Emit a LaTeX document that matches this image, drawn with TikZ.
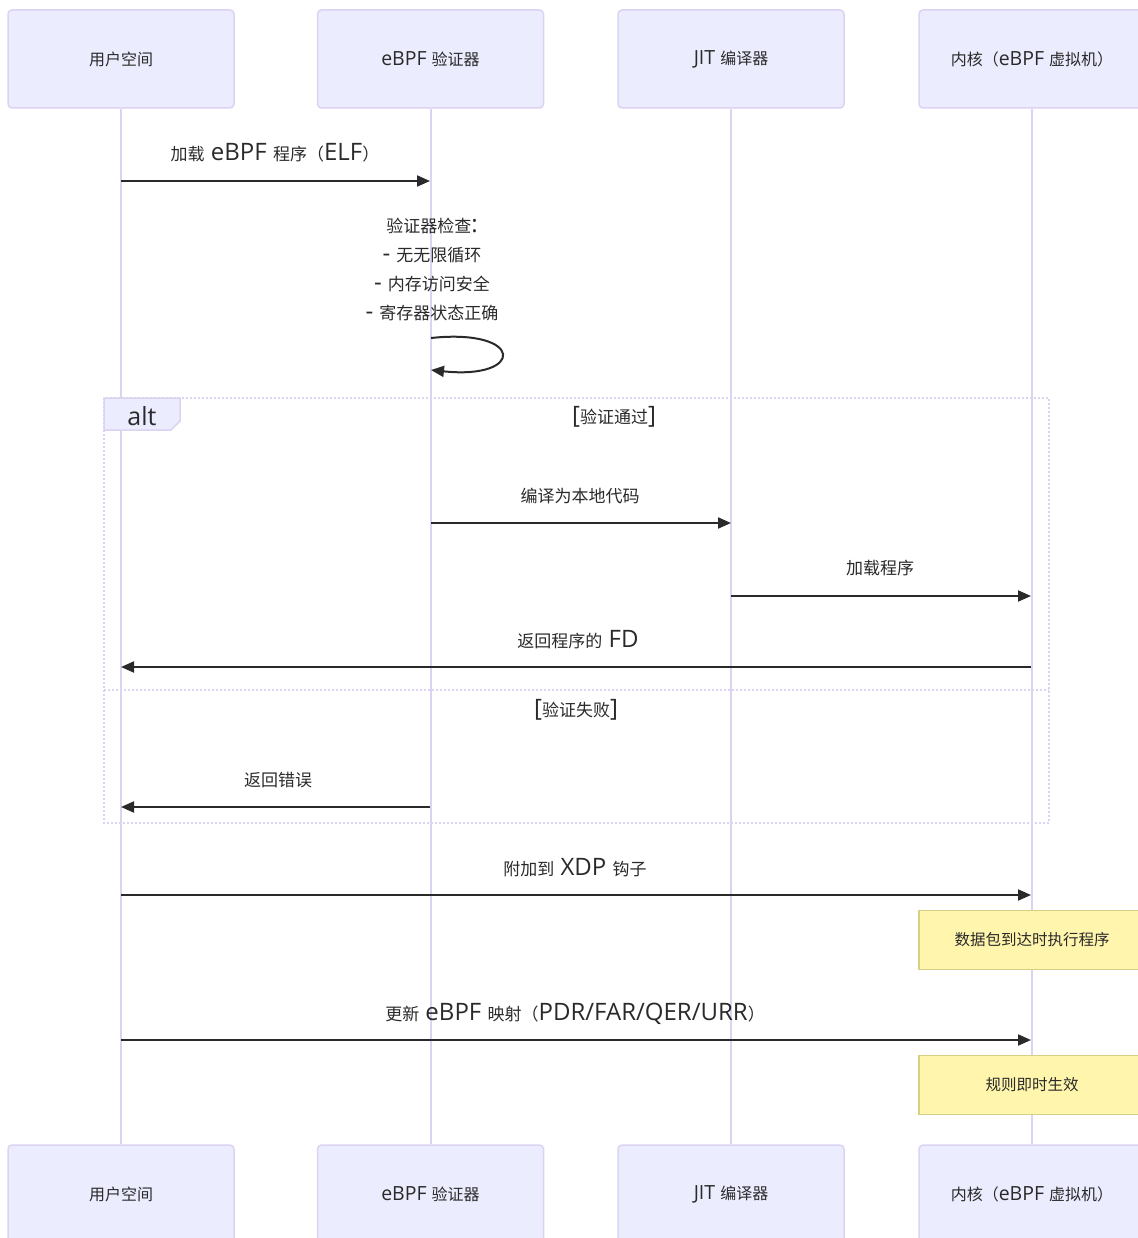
\documentclass[tikz,border=0pt]{standalone}
\usepackage{fontspec}
\setmainfont{Open Sans}
\newfontfamily\cjk{Noto Sans CJK SC}
\def\zhsz{17}
\newcommand\zh[1]{{\cjk\fontsize{\zhsz}{29}\selectfont #1}}
\usetikzlibrary{arrows.meta}
\definecolor{actfill}{HTML}{ECECFF}
\definecolor{actborder}{HTML}{DCD3F3}
\definecolor{txt}{HTML}{2A2A2A}
\definecolor{notefill}{HTML}{FFF5AD}
\definecolor{noteborder}{HTML}{D6CF86}
\tikzset{
  actor/.style={draw=actborder, fill=actfill, line width=1.5pt, rounded corners=4pt,
    minimum width=226pt, minimum height=98pt, inner sep=0pt, text=txt,
    font=\fontsize{19.5}{25}\selectfont\def\zhsz{16}},
  lifeline/.style={draw=actborder, line width=2pt},
  msgarrow/.style={draw=txt, line width=2pt, -{Triangle[length=13pt,width=11pt]}},
  msglabel/.style={text=txt, font=\fontsize{24}{29}\selectfont, inner sep=0pt, align=center},
  loopline/.style={draw=actborder, line width=1.5pt, dash pattern=on 2pt off 2pt},
  note/.style={draw=noteborder, fill=notefill, line width=1.5pt, minimum width=226pt,
    minimum height=59pt, inner sep=0pt, text=txt, font=\fontsize{21}{25}\selectfont\def\zhsz{15.5}},
}
\begin{document}
\begin{tikzpicture}[x=1pt, y=-1pt]
\useasboundingbox (0,0) rectangle (1137,1238);
% actors (top and bottom)
\node[actor] (a1) at (121,59) {\zh{用户空间}};
\node[actor] (a2) at (430.5,59) {eBPF \zh{验证器}};
\node[actor] (a3) at (731,59) {JIT \zh{编译器}};
\node[actor] (a4) at (1032,59) {\zh{内核（}eBPF \zh{虚拟机）}};
\node[actor] (b1) at (121,1194) {\zh{用户空间}};
\node[actor] (b2) at (430.5,1194) {eBPF \zh{验证器}};
\node[actor] (b3) at (731,1194) {JIT \zh{编译器}};
\node[actor] (b4) at (1032,1194) {\zh{内核（}eBPF \zh{虚拟机）}};
% lifelines
\draw[lifeline] (a1.south) -- (b1.north);
\draw[lifeline] (a2.south) -- (b2.north);
\draw[lifeline] (a3.south) -- (b3.north);
\draw[lifeline] (a4.south) -- (b4.north);
% points on lifelines
\coordinate (p1a) at (121,181);  \coordinate (p1b) at (430,181);
\coordinate (s1) at (431,338);   \coordinate (s2) at (431,370);
\coordinate (p4a) at (431,523);  \coordinate (p4b) at (731,523);
\coordinate (p5a) at (731,596);  \coordinate (p5b) at (1031,596);
\coordinate (p6a) at (1031,667); \coordinate (p6b) at (121,667);
\coordinate (p8a) at (430,807);  \coordinate (p8b) at (121,807);
\coordinate (p9a) at (121,895);  \coordinate (p9b) at (1031,895);
\coordinate (p11a) at (121,1040); \coordinate (p11b) at (1031,1040);
% message 1
\draw[msgarrow] (p1a) -- (p1b);
\node[msglabel] (l1) at (275,153) {\zh{加载} eBPF \zh{程序（}ELF\zh{）}};
% self message
\node[msglabel] (l2) at (432,269) {\zh{验证器检查}:\\- \zh{无无限循环}\\- \zh{内存访问安全}\\- \zh{寄存器状态正确}};
\draw[msgarrow] (s1) .. controls (525,328) and (525,380) .. (s2);
% alt frame
\draw[loopline] (104,398) rectangle (1049,823);
\draw[loopline] (104,690) -- (1049,690);
\draw[draw=actborder, fill=actfill, line width=1.5pt] (104,398) -- (180,398) -- (180,421) -- (171,430) -- (104,430) -- cycle;
\node[msglabel, font=\fontsize{25}{29}\selectfont] (alt) at (142,416) {alt};
\node[msglabel] (c1) at (614,417) {[\zh{验证通过}]};
\node[msglabel] (c2) at (576,710) {[\zh{验证失败}]};
% messages in alt
\draw[msgarrow] (p4a) -- (p4b);
\node[msglabel] (l4) at (580,496) {\zh{编译为本地代码}};
\draw[msgarrow] (p5a) -- (p5b);
\node[msglabel] (l5) at (880,568) {\zh{加载程序}};
\draw[msgarrow] (p6a) -- (p6b);
\node[msglabel] (l6) at (578,640) {\zh{返回程序的} FD};
\draw[msgarrow] (p8a) -- (p8b);
\node[msglabel] (l8) at (278,780) {\zh{返回错误}};
% after alt
\draw[msgarrow] (p9a) -- (p9b);
\node[msglabel] (l9) at (575,868) {\zh{附加到} XDP \zh{钩子}};
\node[note] (n1) at (1032,940) {\zh{数据包到达时执行程序}};
\draw[msgarrow] (p11a) -- (p11b);
\node[msglabel] (l11) at (575,1014) {\zh{更新} eBPF \zh{映射（}PDR/FAR/QER/URR\zh{）}};
\node[note] (n2) at (1032,1085) {\zh{规则即时生效}};
\end{tikzpicture}
\end{document}
